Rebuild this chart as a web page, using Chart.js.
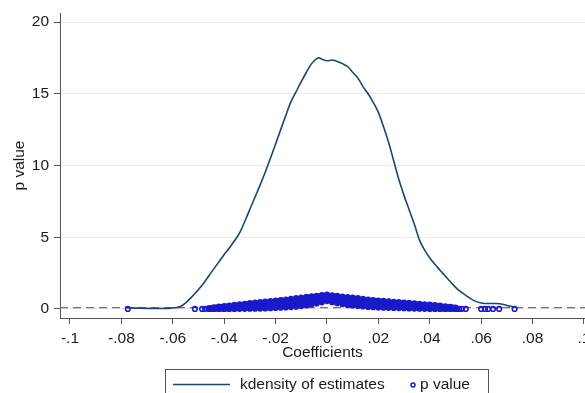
<!DOCTYPE html>
<html>
<head>
<meta charset="utf-8">
<script src="https://cdn.jsdelivr.net/npm/chart.js@4/dist/chart.umd.min.js"></script>
<style>
html,body{margin:0;padding:0;background:#fff;overflow:hidden;}
#c{display:block;}
</style>
</head>
<body>
<canvas id="c" width="585" height="393"></canvas>
<script>
// ---- data ----
const kdensX = [-0.078,-0.074,-0.070,-0.066,-0.062,-0.059,-0.057,-0.055,-0.053,-0.051,-0.048,-0.045,-0.042,-0.040,-0.038,-0.036,-0.034,-0.032,-0.030,-0.028,-0.026,-0.024,-0.022,-0.020,-0.018,-0.016,-0.014,-0.012,-0.010,-0.008,-0.006,-0.004,-0.003,-0.002,0.000,0.002,0.004,0.006,0.008,0.010,0.012,0.014,0.016,0.018,0.020,0.022,0.024,0.026,0.028,0.030,0.032,0.034,0.036,0.038,0.040,0.043,0.045,0.048,0.051,0.054,0.057,0.060,0.063,0.066,0.069,0.071,0.073];
const kdensY = [0.08,0.06,0.04,0.03,0.04,0.08,0.17,0.42,0.77,1.15,1.80,2.55,3.30,3.80,4.25,4.75,5.30,6.10,6.95,7.80,8.65,9.55,10.50,11.50,12.50,13.50,14.45,15.15,15.85,16.50,17.10,17.45,17.50,17.40,17.30,17.35,17.25,17.10,16.90,16.50,16.10,15.50,15.00,14.40,13.70,12.70,11.60,10.30,9.00,7.90,6.90,5.90,4.80,4.10,3.55,2.90,2.50,1.90,1.35,0.95,0.60,0.42,0.38,0.38,0.30,0.20,0.12];

const bandX = [-0.046,-0.044,-0.042,-0.040,-0.038,-0.036,-0.034,-0.032,-0.030,-0.028,-0.026,-0.024,-0.022,-0.020,-0.018,-0.016,-0.014,-0.012,-0.010,-0.008,-0.006,-0.004,-0.002,0.000,0.002,0.004,0.006,0.008,0.010,0.012,0.014,0.016,0.018,0.020,0.022,0.024,0.026,0.028,0.030,0.032,0.034,0.036,0.038,0.040,0.042,0.044,0.046,0.048,0.050];
const pUpper = [0.05,0.11,0.16,0.20,0.24,0.28,0.32,0.36,0.40,0.44,0.48,0.51,0.54,0.58,0.62,0.66,0.71,0.76,0.80,0.84,0.88,0.92,0.96,1.00,0.95,0.91,0.87,0.83,0.79,0.75,0.70,0.66,0.62,0.59,0.56,0.53,0.50,0.47,0.45,0.42,0.39,0.36,0.33,0.30,0.27,0.23,0.19,0.15,0.09];
const pMid   = [0.02,0.05,0.07,0.09,0.11,0.13,0.15,0.18,0.21,0.23,0.26,0.28,0.30,0.33,0.36,0.39,0.42,0.46,0.50,0.55,0.60,0.66,0.72,0.80,0.72,0.66,0.60,0.55,0.51,0.47,0.43,0.40,0.37,0.34,0.32,0.30,0.28,0.26,0.24,0.22,0.20,0.18,0.16,0.14,0.12,0.10,0.08,0.06,0.04];
const pLower = [0.00,0.00,0.00,0.00,0.00,0.00,0.01,0.01,0.02,0.02,0.03,0.04,0.05,0.07,0.09,0.11,0.13,0.16,0.20,0.25,0.31,0.38,0.46,0.55,0.47,0.40,0.33,0.28,0.24,0.20,0.17,0.14,0.12,0.10,0.09,0.08,0.07,0.06,0.05,0.04,0.03,0.02,0.01,0.00,0.00,0.00,0.00,0.00,0.00];

const bandX2 = [-0.045,-0.043,-0.041,-0.039,-0.037,-0.035,-0.033,-0.031,-0.029,-0.027,-0.025,-0.023,-0.021,-0.019,-0.017,-0.015,-0.013,-0.011,-0.009,-0.007,-0.005,-0.003,-0.001,0.001,0.003,0.005,0.007,0.009,0.011,0.013,0.015,0.017,0.019,0.021,0.023,0.025,0.027,0.029,0.031,0.033,0.035,0.037,0.039,0.041,0.043,0.045,0.047,0.049];
const pHighMid = [0.06,0.10,0.13,0.16,0.19,0.22,0.25,0.29,0.32,0.35,0.38,0.41,0.44,0.47,0.51,0.55,0.59,0.63,0.67,0.72,0.77,0.82,0.87,0.87,0.81,0.76,0.71,0.67,0.63,0.59,0.55,0.51,0.48,0.45,0.43,0.40,0.38,0.36,0.33,0.31,0.28,0.26,0.23,0.21,0.18,0.15,0.12,0.09];
const pLowMid  = [0.01,0.02,0.03,0.04,0.05,0.06,0.08,0.10,0.11,0.13,0.15,0.16,0.18,0.21,0.23,0.26,0.29,0.33,0.37,0.43,0.49,0.55,0.63,0.63,0.56,0.50,0.44,0.39,0.35,0.32,0.28,0.26,0.23,0.21,0.20,0.18,0.17,0.15,0.14,0.12,0.11,0.09,0.08,0.06,0.05,0.04,0.03,0.02];

const outlierX = [-0.0775,-0.0514,-0.0486,-0.0475,0.0505,0.0515,0.0525,0.0540,0.0600,0.0615,0.0627,0.0646,0.0670,0.0730];
const outlierP = [0.00,0.00,0.00,0.01,0.01,0.00,0.01,0.00,0.00,0.00,0.00,0.00,0.00,0.00];

const refLineP = 0.1;
const xTickValues = [-0.1,-0.08,-0.06,-0.04,-0.02,0,0.02,0.04,0.06,0.08,0.1];
const xTickLabels = ['-.1','-.08','-.06','-.04','-.02','0','.02','.04','.06','.08','.1'];
const yTickValues = [0,5,10,15,20];
const yTickLabels = ['0','5','10','15','20'];
const xMin = -0.10389, xMax = 0.1004;
const yMin = -0.63, yMax = 20.63;

// ---- build ----
const kdensData = kdensX.map((x,i)=>({x:x,y:kdensY[i]}));
const pData = [];
bandX.forEach((x,i)=>{ pData.push({x:x,y:pUpper[i]}); pData.push({x:x,y:pMid[i]}); pData.push({x:x,y:pLower[i]}); });
bandX2.forEach((x,i)=>{ pData.push({x:x,y:pHighMid[i]}); pData.push({x:x,y:pLowMid[i]}); });
const bandCount = pData.length;
outlierX.forEach((x,i)=>pData.push({x:x,y:outlierP[i]}));

const FONT = "'Liberation Sans', Arial, sans-serif";
const NAVY = '#1a476f';
const BLUE = '#1a1acb';
const AXIS = '#555555';
const noPad = () => ({left:0,right:0,top:0,bottom:0});

const legendPlugin = {
  id: 'stataLegend',
  afterDraw(chart){
    const ctx = chart.ctx;
    ctx.save();
    ctx.strokeStyle = AXIS; ctx.lineWidth = 1;
    ctx.strokeRect(165.5, 369.5, 323, 40);
    ctx.strokeStyle = NAVY; ctx.lineWidth = 1.5;
    ctx.beginPath(); ctx.moveTo(173, 384.5); ctx.lineTo(230, 384.5); ctx.stroke();
    ctx.fillStyle = '#1a1a1a';
    ctx.font = '15.5px ' + FONT;
    ctx.textBaseline = 'middle';
    ctx.fillText(chart.data.datasets[1].label, 240, 385);
    ctx.strokeStyle = BLUE; ctx.lineWidth = 1.5;
    ctx.beginPath(); ctx.arc(413, 385, 2, 0, Math.PI*2); ctx.stroke();
    ctx.fillText(chart.data.datasets[2].label, 420, 385);
    ctx.restore();
  }
};

new Chart(document.getElementById('c'), {
  type: 'scatter',
  data: {
    datasets: [
      { label: 'p = 0.1', order: 3, data: [{x:xMin,y:refLineP},{x:xMax,y:refLineP}], showLine: true,
        borderColor: '#e0404a', borderWidth: 1.3, borderDash: [8,5], pointRadius: 0 },
      { label: 'kdensity of estimates', order: 2, data: kdensData, showLine: true, borderColor: NAVY,
        borderWidth: 1.6, pointRadius: 0, cubicInterpolationMode: 'monotone' },
      { label: 'p value', order: 1, data: pData, showLine: false, pointRadius: 2.3, pointBorderWidth: 1.6,
        pointBorderColor: BLUE,
        pointBackgroundColor: c => (c.dataIndex < bandCount ? BLUE : 'rgba(255,255,255,0)') }
    ]
  },
  options: {
    responsive: false, animation: false, devicePixelRatio: 1,
    layout: { autoPadding: false, padding: { top: 13, right: 0, left: 0, bottom: 0 } },
    plugins: { legend: { display: false }, tooltip: { enabled: false } },
    scales: {
      x: {
        type: 'linear', min: xMin, max: xMax,
        afterBuildTicks: s => { s.ticks = xTickValues.map(v=>({value:v})); },
        afterFit: s => { s.height = 75; s.paddingLeft = 0; s.paddingRight = 0; s.getPadding = noPad; },
        ticks: { callback: (v,i)=>xTickLabels[i], font: { family: FONT, size: 15.5 }, color: '#1a1a1a', padding: 5, maxRotation: 0, autoSkip: false },
        grid: { drawOnChartArea: false, tickLength: 6, tickColor: AXIS, tickWidth: 1 },
        border: { color: AXIS, width: 1 },
        title: { display: true, text: 'Coefficients', font: { family: FONT, size: 15.5 }, color: '#1a1a1a', padding: { top: 0, bottom: 31 } }
      },
      y: {
        type: 'linear', min: yMin, max: yMax,
        afterBuildTicks: s => { s.ticks = yTickValues.map(v=>({value:v})); },
        afterFit: s => { s.width = 60; s.paddingTop = 0; s.paddingBottom = 0; s.getPadding = noPad; },
        ticks: { callback: (v,i)=>yTickLabels[i], font: { family: FONT, size: 15.5 }, color: '#1a1a1a', padding: 5 },
        grid: { color: '#e3ecef', lineWidth: 1, tickLength: 6, tickColor: AXIS, tickWidth: 1 },
        border: { color: AXIS, width: 1 },
        title: { display: true, text: 'p value', font: { family: FONT, size: 15.5 }, color: '#1a1a1a', padding: { top: 10, bottom: 0 } }
      }
    }
  },
  plugins: [legendPlugin]
});
</script>
</body>
</html>
